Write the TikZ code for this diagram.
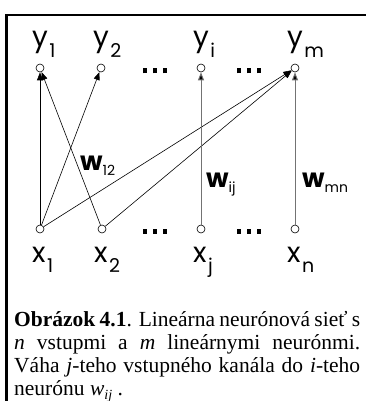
\documentclass[tikz,border=0pt]{standalone}
\usepackage{fontspec}
\setmainfont{Liberation Serif}
\newfontfamily\gfont{Poppins}
\usetikzlibrary{arrows.meta}
\newcommand\lsub[1]{\hspace{1.5pt}\raisebox{-0.38em}{\fontsize{19}{19}\selectfont #1}}
\newcommand\wsub[1]{\raisebox{-0.2em}{\fontsize{14}{14}\selectfont\mdseries #1}}
\tikzset{
  neuron/.style={circle,draw,fill=white,inner sep=0pt,minimum size=8pt,line width=0.6pt},
  lab/.style={inner sep=0pt,anchor=base west,font=\gfont\fontsize{28}{28}\selectfont},
  wlab/.style={inner sep=0pt,anchor=base west,font=\gfont\bfseries\fontsize{26}{26}\selectfont},
  conn/.style={line width=0.6pt,-{Triangle[length=8pt,width=6pt]}},
  gconn/.style={line width=1pt,draw=black!55,-{Triangle[length=8pt,width=6pt,fill=black]}},
  dots/.style={inner sep=0pt,font=\fontsize{10}{10}\selectfont},
  capline/.style={inner sep=0pt,anchor=base west,font=\fontsize{21.5}{23}\selectfont},
}
\newcommand\sqdots{\rule{4pt}{5pt}\hspace{6pt}\rule{4pt}{5pt}\hspace{6pt}\rule{4pt}{5pt}}
\begin{document}
\begin{tikzpicture}[x=1pt,y=1pt]
\useasboundingbox (0,0) rectangle (365,-401);
\draw[line width=2.5pt] (366,-15) -| (6.5,-402);
% output neurons
\node[neuron] (y1) at (40,-68) {};
\node[neuron] (y2) at (101,-68) {};
\node[neuron] (yi) at (201,-68) {};
\node[neuron] (ym) at (295,-68) {};
% input neurons
\node[neuron] (x1) at (40,-229) {};
\node[neuron] (x2) at (102,-229) {};
\node[neuron] (xj) at (201,-229) {};
\node[neuron] (xn) at (295,-229) {};
% labels
\node[lab] (ly1) at (32,-47) {y\lsub{1}};
\node[lab] (ly2) at (93,-47) {y\lsub{2}};
\node[lab] (lyi) at (193,-47) {y\lsub{i}};
\node[lab] (lym) at (287,-47) {y\lsub{m}};
\node[lab] (lx1) at (32,-262) {x\lsub{1}};
\node[lab] (lx2) at (94,-262) {x\lsub{2}};
\node[lab] (lxj) at (193,-262) {x\lsub{j}};
\node[lab] (lxn) at (287,-262) {x\lsub{n}};
% dots
\node[dots] (d1) at (155,-71) {\sqdots};
\node[dots] (d2) at (249,-71) {\sqdots};
\node[dots] (d3) at (155,-231) {\sqdots};
\node[dots] (d4) at (249,-231) {\sqdots};
% connections
\draw[conn] (x1) -- (y1);
\draw[conn] (x1) -- (y2);
\draw[conn] (x2) -- (y1);
\draw[conn] (x1) -- (ym);
\draw[conn] (x2) -- (ym);
\draw[gconn] (xj) -- (yi);
\draw[gconn] (xn) -- (ym);
% weights
\node[wlab] (w12) at (80,-170) {w\wsub{12}};
\node[wlab] (wij) at (206,-187) {w\wsub{ij}};
\node[wlab] (wmn) at (302,-187) {w\wsub{mn}};
% caption
\node[capline] (cap1) at (14,-326) {\hbox to 346pt{\textbf{Obrázok 4.1}. Lineárna neurónová sieť s}};
\node[capline] (cap2) at (14,-349) {\hbox to 346pt{\textit{n} vstupmi a \textit{m} lineárnymi neurónmi.}};
\node[capline] (cap3) at (14,-372) {\hbox to 346pt{Váha \textit{j}-teho vstupného kanála do \textit{i}-teho}};
\node[capline] (cap4) at (14,-395) {neurónu \textit{w}\raisebox{-0.2em}{\fontsize{14}{14}\selectfont\textit{ij}} .};
\end{tikzpicture}
\end{document}
